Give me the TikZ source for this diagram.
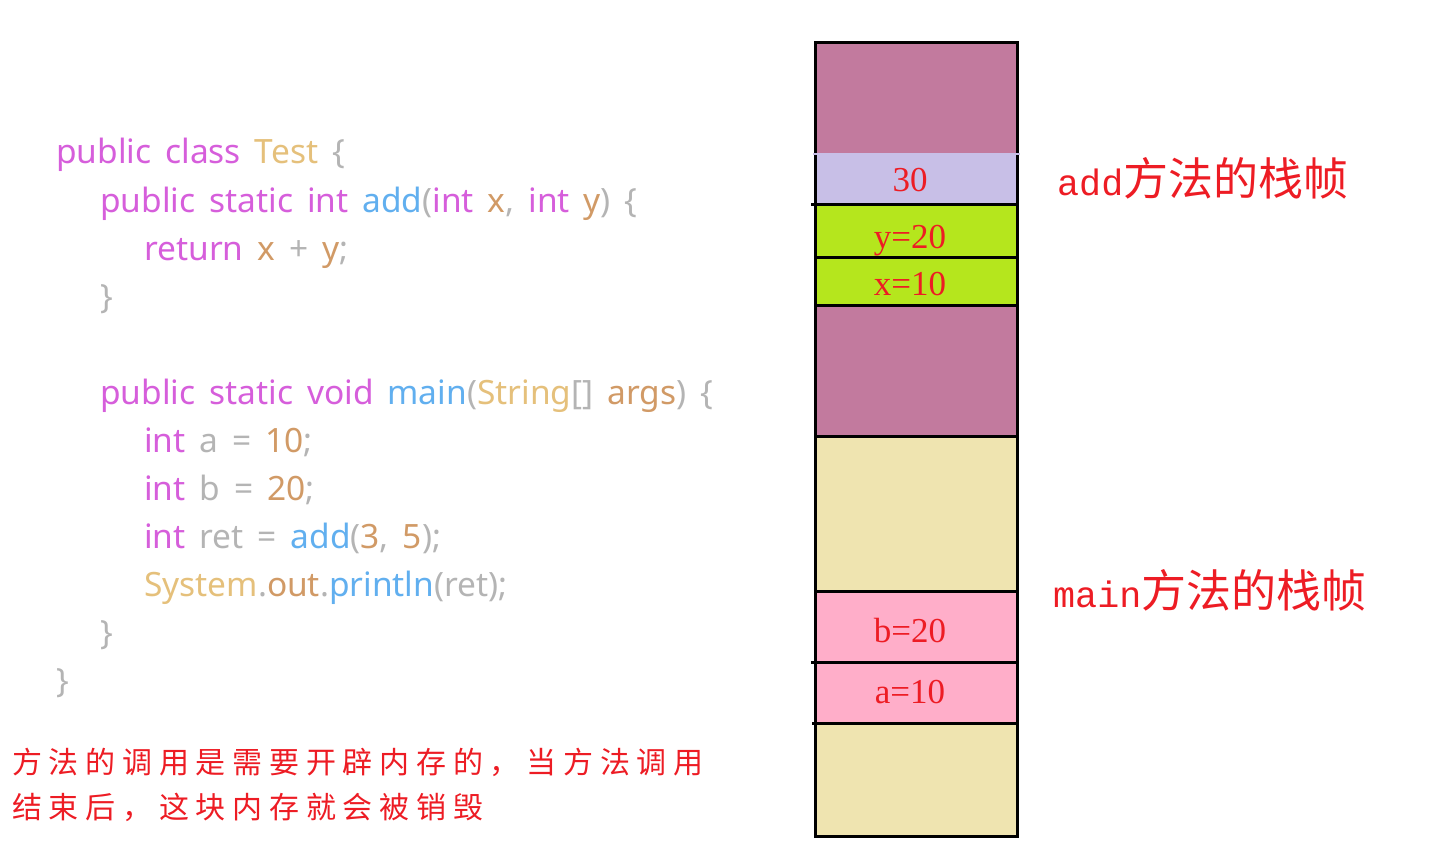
\documentclass[tikz,border=0pt]{standalone}
\usepackage{fontspec}
\setmainfont{Liberation Serif}
\newfontfamily\codefont[WordSpace=1.6]{Noto Sans}
\newfontfamily\cjkfont{Noto Sans CJK SC}
\newfontfamily\cjkspaced[LetterSpace=22.5]{Noto Sans CJK SC}
\newfontfamily\labmono{Liberation Mono}
\definecolor{kw}{HTML}{D65EDB}
\definecolor{fn}{HTML}{61AFEF}
\definecolor{ty}{HTML}{E5C07B}
\definecolor{nm}{HTML}{D19A66}
\definecolor{pu}{HTML}{B4B4B4}
\definecolor{rd}{HTML}{ED1C24}
\definecolor{plum}{HTML}{C27A9E}
\definecolor{lav}{HTML}{C8BFE7}
\definecolor{lime}{HTML}{B5E61D}
\definecolor{beige}{HTML}{EFE4B0}
\definecolor{pinkc}{HTML}{FFAEC9}
\newcommand\cK[1]{\textcolor{kw}{#1}}
\newcommand\cF[1]{\textcolor{fn}{#1}}
\newcommand\cT[1]{\textcolor{ty}{#1}}
\newcommand\cN[1]{\textcolor{nm}{#1}}
\newcommand\cP[1]{\textcolor{pu}{#1}}
\tikzset{
  codeline/.style={anchor=base west, inner sep=0pt, font=\codefont\fontsize{33.5}{38}\selectfont},
  cellval/.style={anchor=base, inner sep=0pt, text=rd, font=\fontsize{35}{40}\selectfont},
  framelabel/.style={anchor=base west, inner sep=0pt, text=rd},
  note/.style={anchor=base west, inner sep=0pt, text=rd, font=\cjkspaced\fontsize{30}{36}\selectfont},
  sep/.style={line width=3pt, black}
}
\begin{document}
\begin{tikzpicture}[x=1pt,y=-1pt]
\useasboundingbox (0,0) rectangle (1430,848);
% code
\node[codeline] (c1) at (56,164) {\cK{public class} \cT{Test} \cP{\{}};
\node[codeline] (c2) at (100,212) {\cK{public static int} \cF{add}\cP{(}\cK{int} \cN{x}\cP{,} \cK{int} \cN{y}\cP{)} \cP{\{}};
\node[codeline] (c3) at (144,260) {\cK{return} \cN{x} \cP{+} \cN{y}\cP{;}};
\node[codeline] (c4) at (100,308) {\cP{\}}};
\node[codeline] (c5) at (100,404) {\cK{public static void} \cF{main}\cP{(}\cT{String}\cP{[]} \cN{args}\cP{)} \cP{\{}};
\node[codeline] (c6) at (144,452) {\cK{int} \cP{a =} \cN{10}\cP{;}};
\node[codeline] (c7) at (144,500) {\cK{int} \cP{b =} \cN{20}\cP{;}};
\node[codeline] (c8) at (144,548) {\cK{int} \cP{ret =} \cF{add}\cP{(}\cN{3}\cP{,} \cN{5}\cP{);}};
\node[codeline] (c9) at (144,596) {\cT{System}\cP{.}\cN{out}\cP{.}\cF{println}\cP{(ret);}};
\node[codeline] (c10) at (100,644) {\cP{\}}};
\node[codeline] (c11) at (56,692) {\cP{\}}};
% note
\node[note] (n1) at (12,773) {方法的调用是需要开辟内存的，当方法调用};
\node[note] (n2) at (12,818) {结束后，这块内存就会被销毁};
% stack
\fill[plum] (815,43) rectangle (1017,154);
\fill[lav] (815,154) rectangle (1017,204);
\fill[lime] (815,204) rectangle (1017,305);
\fill[plum] (815,305) rectangle (1017,436);
\fill[beige] (815,436) rectangle (1017,591);
\fill[pinkc] (815,591) rectangle (1017,723);
\fill[beige] (815,723) rectangle (1017,836);
\draw[sep] (815,43) rectangle (1017,836);
\draw[sep] (811,204) -- (1017,204);
\draw[sep] (815,257) -- (1017,257);
\draw[sep] (815,305) -- (1017,305);
\draw[sep] (815,436) -- (1017,436);
\draw[sep] (815,591) -- (1017,591);
\draw[sep] (811,662) -- (1017,662);
\draw[sep] (812,723) -- (1017,723);
\draw[lav, line width=2pt] (813,154) -- (1020,154);
\node[cellval] (v30) at (910,192) {30};
\node[cellval] (vy) at (910,248) {y=20};
\node[cellval] (vx) at (910,295) {x=10};
\node[cellval] (vb) at (910,642) {b=20};
\node[cellval] (va) at (910,703) {a=10};
% labels
\node[framelabel] (laddf) at (1057,195) {{\labmono\fontsize{36.7}{40}\selectfont add}{\cjkfont\fontsize{45}{48}\selectfont 方法的栈帧}};
\node[framelabel] (lmain) at (1053,607) {{\labmono\fontsize{36.7}{40}\selectfont main}{\cjkfont\fontsize{45}{48}\selectfont 方法的栈帧}};
\end{tikzpicture}
\end{document}
